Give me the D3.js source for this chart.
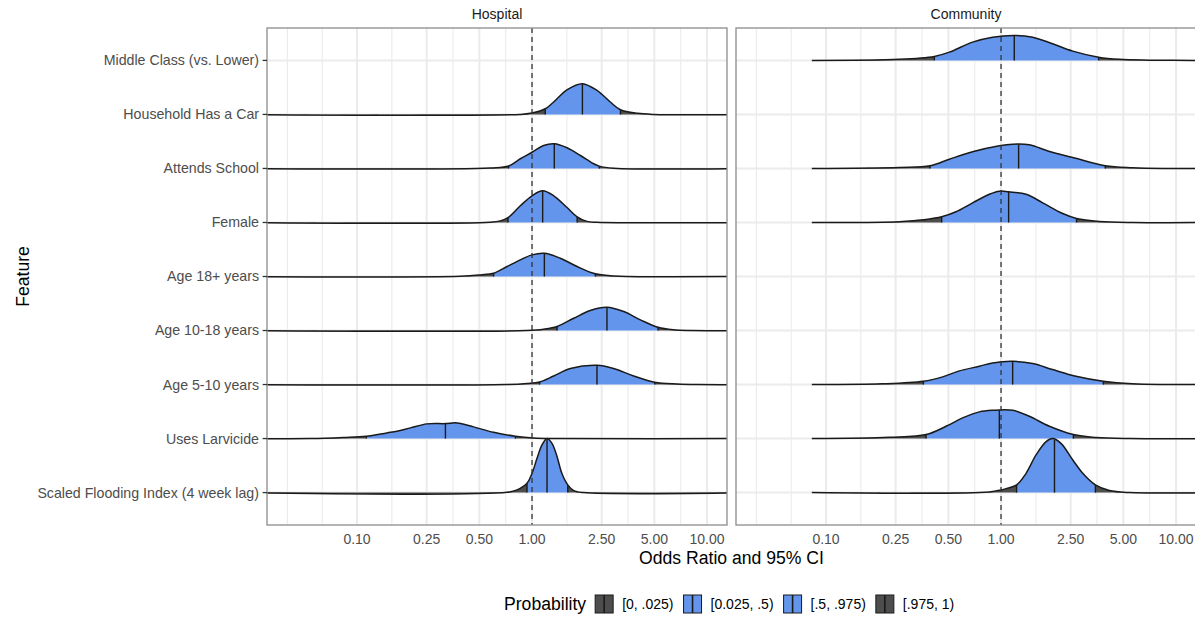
<!DOCTYPE html>
<html>
<head>
<meta charset="utf-8">
<script src="https://cdn.jsdelivr.net/npm/d3@7"></script>
<style>
  body { margin: 0; background: #fff; }
  text { font-family: "Liberation Sans", Arial, sans-serif; }
</style>
</head>
<body>
<svg id="chart" width="1195" height="617"></svg>
<script>
// rows, top to bottom
const features = [
  "Middle Class (vs. Lower)", "Household Has a Car", "Attends School", "Female",
  "Age 18+ years", "Age 10-18 years", "Age 5-10 years", "Uses Larvicide",
  "Scaled Flooding Index (4 week lag)"
];
const panels = ["Hospital", "Community"];
const xTicks = [0.1, 0.25, 0.5, 1, 2.5, 5, 10];
const xTickLabels = ["0.10", "0.25", "0.50", "1.00", "2.50", "5.00", "10.00"];
const probLabels = ["[0, .025)", "[0.025, .5)", "[.5, .975)", "[.975, 1)"];
const probColors = ["#4d4d4d", "#6495ed", "#6495ed", "#4d4d4d"];
// where each panel's density line starts / ends (odds ratio)
const densityRange = { Hospital: [0.02, 20], Community: [0.083, 20] };

// each ridge: quantiles [2.5%, 50%, 97.5%] and density points [odds ratio, height in rows]
const hospitalRidges = [
  { feature: "Household Has a Car", q: [1.19, 1.94, 3.2],
    pts: [[0.857, 0], [0.98, 0.02], [1.19, 0.105], [1.32, 0.22], [1.59, 0.46], [1.94, 0.57],
          [2.36, 0.44], [2.8, 0.23], [3.2, 0.087], [4.0, 0.02], [4.95, 0]] },
  { feature: "Attends School", q: [0.735, 1.34, 2.42],
    pts: [[0.578, 0.01], [0.735, 0.046], [0.857, 0.18], [1.0, 0.3], [1.165, 0.425], [1.34, 0.457],
          [1.585, 0.383], [1.89, 0.24], [2.25, 0.087], [2.42, 0.043], [2.93, 0.005]] },
  { feature: "Female", q: [0.729, 1.15, 1.81],
    pts: [[0.578, 0.005], [0.659, 0.03], [0.729, 0.09], [0.857, 0.309], [1.0, 0.494], [1.15, 0.586],
          [1.33, 0.494], [1.585, 0.277], [1.81, 0.105], [2.06, 0.02], [2.35, 0.003]] },
  { feature: "Age 18+ years", q: [0.603, 1.176, 2.3],
    pts: [[0.389, 0.005], [0.507, 0.03], [0.603, 0.06], [0.72, 0.185], [0.857, 0.309], [1.0, 0.4],
          [1.176, 0.43], [1.45, 0.338], [1.81, 0.185], [2.3, 0.05], [2.93, 0.01], [3.49, 0]] },
  { feature: "Age 10-18 years", q: [1.39, 2.68, 5.25],
    pts: [[0.936, 0], [1.165, 0.024], [1.39, 0.074], [1.73, 0.227], [2.15, 0.37], [2.68, 0.43],
          [3.34, 0.351], [4.16, 0.198], [5.25, 0.06], [6.44, 0.013], [8.03, 0]] },
  { feature: "Age 5-10 years", q: [1.105, 2.35, 5.02],
    pts: [[0.72, 0], [0.936, 0.02], [1.105, 0.048], [1.33, 0.159], [1.655, 0.296], [2.35, 0.357],
          [2.93, 0.296], [3.81, 0.159], [5.02, 0.043], [6.74, 0.01], [8.77, 0]] },
  { feature: "Uses Larvicide", q: [0.113, 0.32, 0.803],
    pts: [[0.054, 0], [0.0838, 0.02], [0.113, 0.043], [0.148, 0.105], [0.169, 0.135], [0.202, 0.198],
          [0.251, 0.272], [0.32, 0.277], [0.373, 0.29], [0.464, 0.216], [0.603, 0.116],
          [0.803, 0.043], [1.02, 0.01], [1.33, 0]] },
  { feature: "Scaled Flooding Index (4 week lag)", q: [0.936, 1.218, 1.6],
    pts: [[0.72, 0.005], [0.821, 0.05], [0.936, 0.172], [1.0, 0.357], [1.068, 0.634], [1.14, 0.882],
          [1.218, 1.0], [1.3, 0.911], [1.39, 0.665], [1.48, 0.357], [1.6, 0.142], [1.73, 0.037],
          [1.97, 0]] }
];

const communityRidges = [
  { feature: "Middle Class (vs. Lower)", q: [0.416, 1.19, 3.61],
    pts: [[0.262, 0.02], [0.416, 0.074], [0.507, 0.153], [0.688, 0.338], [0.895, 0.43], [1.19, 0.462],
          [1.516, 0.43], [1.97, 0.309], [2.57, 0.172], [3.61, 0.06], [4.74, 0.02], [7.04, 0.005],
          [12.7, 0]] },
  { feature: "Attends School", q: [0.393, 1.26, 3.94],
    pts: [[0.262, 0.02], [0.393, 0.05], [0.507, 0.172], [0.688, 0.309], [0.978, 0.42], [1.165, 0.449],
          [1.45, 0.438], [1.89, 0.314], [2.57, 0.203], [3.94, 0.05], [5.65, 0.013], [8.77, 0]] },
  { feature: "Female", q: [0.458, 1.105, 2.7],
    pts: [[0.262, 0.013], [0.373, 0.055], [0.458, 0.105], [0.553, 0.198], [0.688, 0.364], [0.857, 0.523],
          [0.978, 0.579], [1.105, 0.567], [1.39, 0.523], [1.73, 0.364], [2.25, 0.166], [2.7, 0.074],
          [3.65, 0.02], [5.65, 0]] },
  { feature: "Age 5-10 years", q: [0.36, 1.165, 3.84],
    pts: [[0.21, 0.013], [0.36, 0.06], [0.464, 0.142], [0.578, 0.253], [0.752, 0.338], [0.895, 0.4],
          [1.165, 0.43], [1.516, 0.388], [1.97, 0.277], [2.68, 0.153], [3.84, 0.06], [5.65, 0.013],
          [8.77, 0]] },
  { feature: "Uses Larvicide", q: [0.373, 0.978, 2.59],
    pts: [[0.23, 0.024], [0.373, 0.074], [0.485, 0.227], [0.603, 0.383], [0.752, 0.494], [0.895, 0.523],
          [1.165, 0.523], [1.45, 0.412], [1.89, 0.227], [2.59, 0.074], [3.49, 0.02], [5.41, 0]] },
  { feature: "Scaled Flooding Index (4 week lag)", q: [1.227, 2.02, 3.46],
    pts: [[0.857, 0.01], [1.0, 0.05], [1.227, 0.142], [1.39, 0.357], [1.585, 0.697], [1.81, 0.943],
          [1.97, 1.0], [2.2, 0.911], [2.57, 0.604], [2.93, 0.357], [3.46, 0.142], [4.16, 0.037],
          [5.41, 0]] }
];

const ridges = { Hospital: hospitalRidges, Community: communityRidges };

// layout
const panelTop = 28, panelBottom = 525, panelW = 460;
const panelLeft = { Hospital: 267, Community: 736 };

const svg = d3.select("#chart");

const x = d3.scaleLog().domain([0.0306, 13]).range([0, panelW]);
const y = d3.scalePoint().domain(features).range([panelTop, panelBottom]).padding(0.6);
const step = y.step();

// minor breaks the ggplot way: midpoints between majors (in log space), extended one step each side
const logT = xTicks.map(Math.log10);
const ext = [logT[0] - (logT[1] - logT[0]), ...logT, logT[logT.length - 1] + (logT[logT.length - 1] - logT[logT.length - 2])];
const minorLog = [];
ext.forEach((v, i) => {
  if (i > 0) minorLog.push((v + ext[i - 1]) / 2);
  if (i === 0 || i === ext.length - 1) minorLog.push(v);
});
const [dLo, dHi] = x.domain().map(Math.log10);
const minorBreaks = minorLog.filter(v => v > dLo && v < dHi).map(v => Math.pow(10, v));

const curve = d3.curveCatmullRom.alpha(0.5);
const area = d3.area().curve(curve)
  .x(d => x(d[0])).y0(0).y1(d => -d[1] * step);
const line = d3.line().curve(curve)
  .x(d => x(d[0])).y(d => -d[1] * step);

const defs = svg.append("defs");

panels.forEach((p, pi) => {
  const g = svg.append("g").attr("transform", `translate(${panelLeft[p]},0)`);

  defs.append("clipPath").attr("id", "clip" + pi)
    .append("rect").attr("x", 0).attr("y", panelTop).attr("width", panelW).attr("height", panelBottom - panelTop);

  // grid
  g.selectAll(".minor").data(minorBreaks).join("line")
    .attr("x1", d => x(d)).attr("x2", d => x(d))
    .attr("y1", panelTop).attr("y2", panelBottom)
    .attr("stroke", "#ebebeb").attr("stroke-width", 1.1);
  g.selectAll(".major").data(xTicks).join("line")
    .attr("x1", d => x(d)).attr("x2", d => x(d))
    .attr("y1", panelTop).attr("y2", panelBottom)
    .attr("stroke", "#ebebeb").attr("stroke-width", 2);
  g.selectAll(".hgrid").data(features).join("line")
    .attr("x1", 0).attr("x2", panelW)
    .attr("y1", d => y(d)).attr("y2", d => y(d))
    .attr("stroke", "#ebebeb").attr("stroke-width", 2);

  const body = g.append("g").attr("clip-path", `url(#clip${pi})`);
  const [r0, r1] = densityRange[p];

  ridges[p].forEach((r, ri) => {
    const full = [[r0, 0], ...r.pts, [r1, 0]];
    const hAt = d3.scaleLog().domain(full.map(d => d[0])).range(full.map(d => d[1]));
    const gid = `grad${pi}_${ri}`;
    const lo = x(r.q[0]) / panelW, hi = x(r.q[2]) / panelW;
    const grad = defs.append("linearGradient").attr("id", gid)
      .attr("gradientUnits", "userSpaceOnUse")
      .attr("x1", 0).attr("x2", panelW).attr("y1", 0).attr("y2", 0);
    [[0, probColors[0]], [lo, probColors[0]], [lo, probColors[1]],
     [hi, probColors[2]], [hi, probColors[3]], [1, probColors[3]]]
      .forEach(s => grad.append("stop").attr("offset", s[0]).attr("stop-color", s[1]));

    const rg = body.append("g").attr("transform", `translate(0,${y(r.feature)})`);
    rg.append("path").datum(full).attr("d", area).attr("fill", `url(#${gid})`);
    rg.selectAll(".ql").data(r.q).join("line")
      .attr("x1", d => x(d)).attr("x2", d => x(d))
      .attr("y1", 0).attr("y2", d => -hAt(d) * step)
      .attr("stroke", "#1a1a1a").attr("stroke-width", 1.4);
    rg.append("path").datum(full).attr("d", line)
      .attr("fill", "none").attr("stroke", "#1a1a1a").attr("stroke-width", 1.5);
  });

  // reference line at OR = 1
  g.append("line")
    .attr("x1", x(1)).attr("x2", x(1)).attr("y1", panelTop).attr("y2", panelBottom)
    .attr("stroke", "#333").attr("stroke-width", 1.3).attr("stroke-dasharray", "5,4");

  // border
  g.append("rect").attr("x", 0).attr("y", panelTop)
    .attr("width", panelW).attr("height", panelBottom - panelTop)
    .attr("fill", "none").attr("stroke", "#8c8c8c").attr("stroke-width", 1.3);

  // strip label
  g.append("text").attr("x", panelW / 2).attr("y", 19)
    .attr("text-anchor", "middle").style("font-size", "14px").style("fill", "#1a1a1a")
    .text(p);

  // x tick labels
  g.selectAll(".xt").data(xTicks).join("text")
    .attr("x", d => x(d)).attr("y", 544)
    .attr("text-anchor", "middle").style("font-size", "14px").style("fill", "#4d4d4d")
    .text((d, i) => xTickLabels[i]);
});

// y axis (left panel only)
const yAxis = svg.append("g");
yAxis.selectAll("line").data(features).join("line")
  .attr("x1", panelLeft.Hospital - 4.4).attr("x2", panelLeft.Hospital)
  .attr("y1", d => y(d)).attr("y2", d => y(d))
  .attr("stroke", "#333").attr("stroke-width", 1.3);
yAxis.selectAll("text").data(features).join("text")
  .attr("x", panelLeft.Hospital - 8).attr("y", d => y(d)).attr("dy", "0.35em")
  .attr("text-anchor", "end").style("font-size", "14.2px").style("fill", "#4d4d4d")
  .text(d => d);

// axis titles
svg.append("text")
  .attr("x", (panelLeft.Hospital + panelLeft.Community + panelW) / 2).attr("y", 564)
  .attr("text-anchor", "middle").style("font-size", "17.6px").style("fill", "#000")
  .text("Odds Ratio and 95% CI");
svg.append("text")
  .attr("transform", `translate(29,${(panelTop + panelBottom) / 2}) rotate(-90)`)
  .attr("text-anchor", "middle").style("font-size", "17.6px").style("fill", "#000")
  .text("Feature");

// legend
const legend = svg.append("g").attr("transform", "translate(504,604)");
const title = legend.append("text").attr("x", 0).attr("dy", "0.35em")
  .style("font-size", "17.6px").style("fill", "#000").text("Probability");
let lx = title.node().getComputedTextLength() + 9;
probLabels.forEach((lab, i) => {
  const k = legend.append("g").attr("transform", `translate(${lx},0)`);
  k.append("rect").attr("x", 0).attr("y", -9).attr("width", 18).attr("height", 18)
    .attr("fill", probColors[i]).attr("stroke", "#1a1a1a").attr("stroke-width", 1);
  k.append("line").attr("x1", 9).attr("x2", 9).attr("y1", -9).attr("y2", 9)
    .attr("stroke", "#1a1a1a").attr("stroke-width", 1.6);
  const t = k.append("text").attr("x", 27).attr("dy", "0.35em")
    .style("font-size", "14px").style("fill", "#000").text(lab);
  lx += 27 + t.node().getComputedTextLength() + 10;
});
</script>
</body>
</html>
